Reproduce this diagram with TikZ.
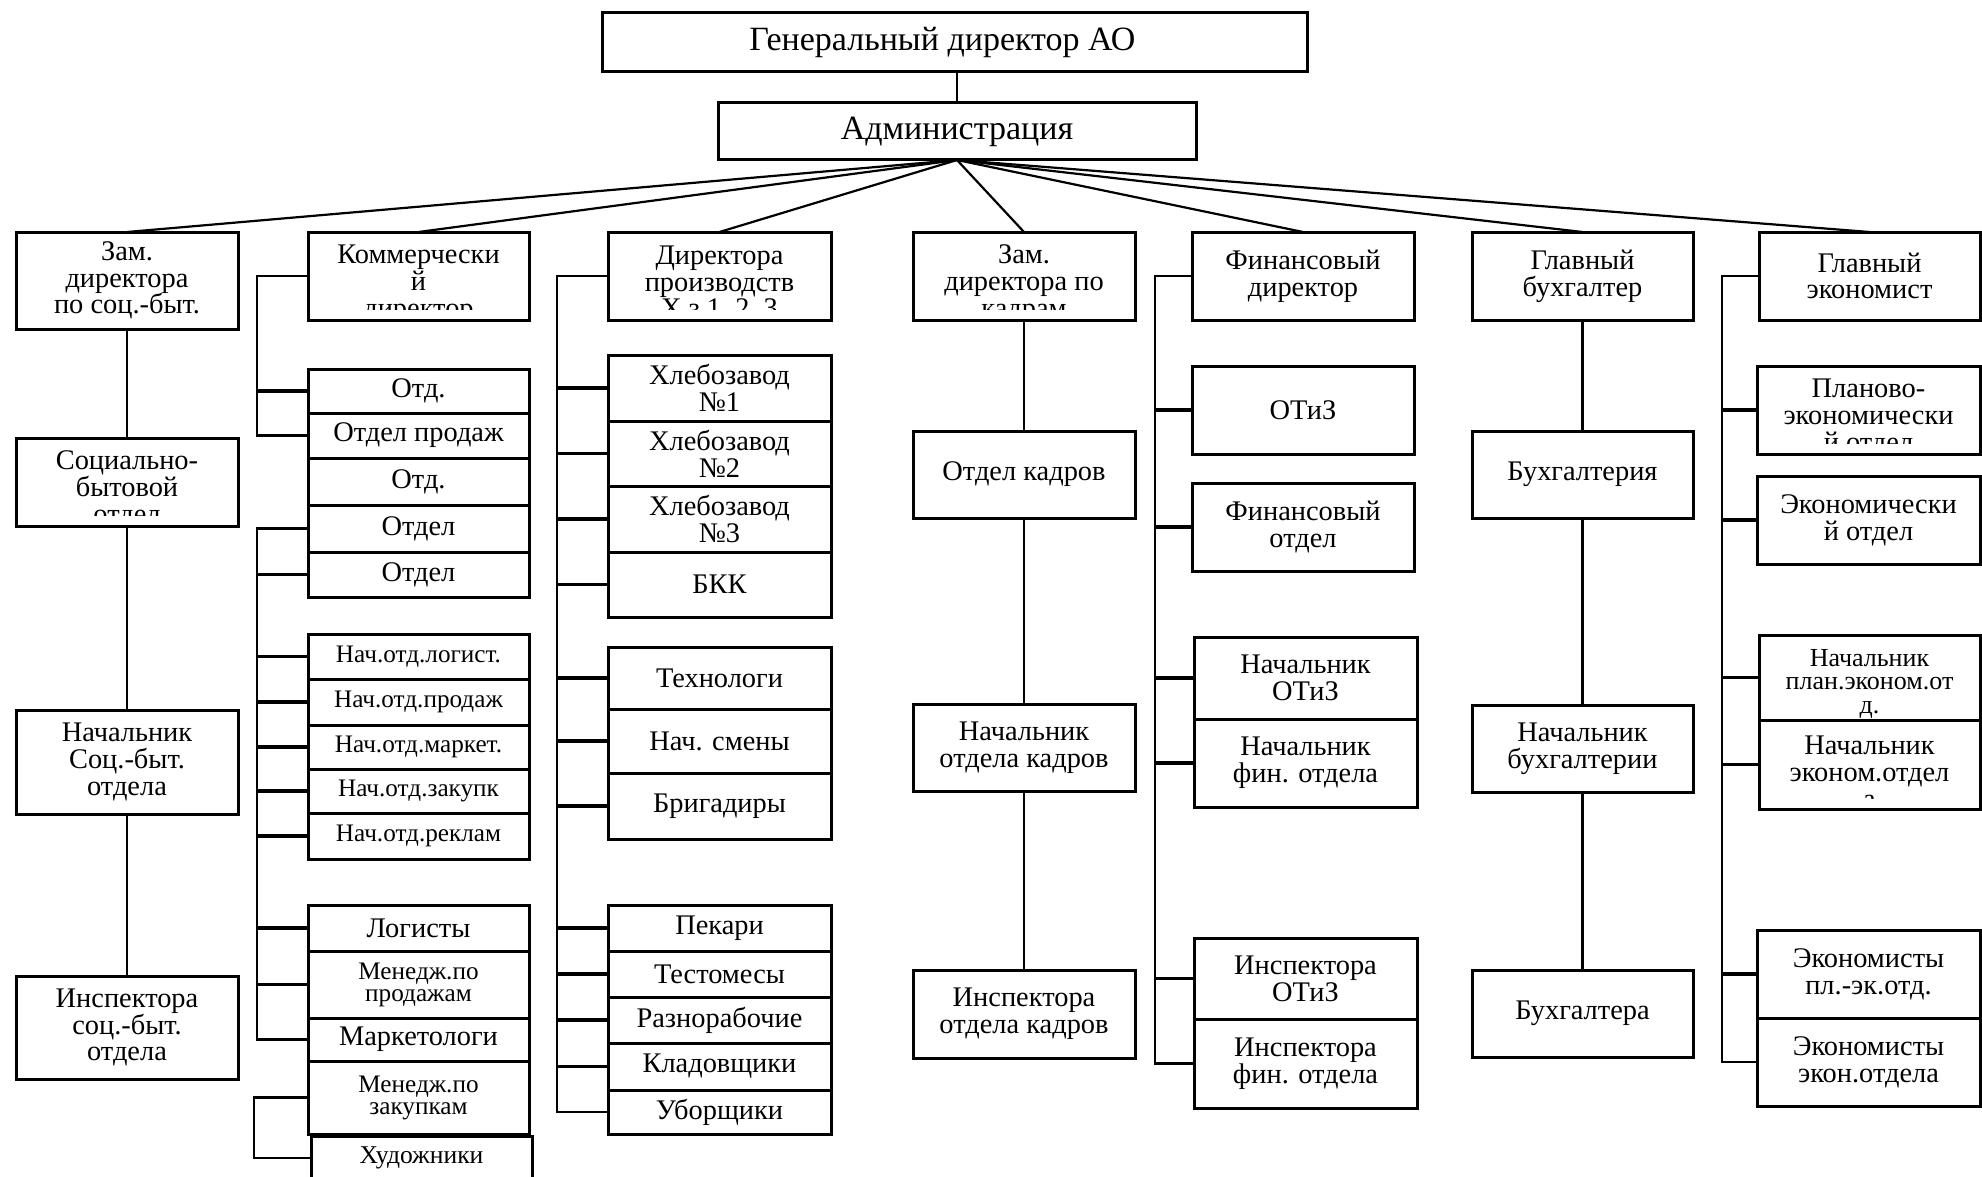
\documentclass[tikz,border=0pt]{standalone}
\usepackage{fontspec}
\setmainfont{Liberation Serif}
\usetikzlibrary{fit,calc}
\tikzset{
  box/.style={draw=black, line width=1.5pt, inner sep=0pt, outer sep=0pt, rectangle},
  txt/.style={align=center, inner sep=0pt, text=black, font=\fontsize{14.2}{13.4}\selectfont},
  smalltxt/.style={font=\fontsize{12.6}{11}\selectfont},
  midtxt/.style={font=\fontsize{12.8}{11.8}\selectfont},
  toptxt/.style={font=\fontsize{17}{16}\selectfont},
  conn/.style={draw=black, line width=1.1pt},
  stub/.style={draw=black, line width=1.6pt},
}
\newcommand\BX[7][]{%
  \node[box, fit={(#3,#4)(#5,#6)}] (#2) {};
  \node[txt,#1] (#2-t) at (#2.center) {#7};}
\newcommand\BXC[7][]{%
  \node[box, fit={(#3,#4)(#5,#6)}] (#2) {};
  \begin{scope}
    \clip (#3,#4) rectangle (#5,{#6-11});
    \node[txt,yshift=-4pt,#1] (#2-t) at (#2.center) {#7};
  \end{scope}}
\begin{document}
\begin{tikzpicture}[x=0.5pt,y=-0.5pt]
\fill[white] (0,0) rectangle (1982,1177);
\useasboundingbox (0,0) rectangle (1982,1177);

% top
\BX[toptxt,xshift=-6pt]{gen}{602}{13}{1307}{72}{Генеральный директор АО}
\BX[toptxt]{adm}{718}{103}{1196}{160}{Администрация}
\draw[conn] (adm.north) -- (adm.north |- gen.south);

% row 1
\BX{zsoc}{16}{232}{238}{329}{Зам.\\директора\\по соц.-быт.}
\BXC{komm}{308}{232}{529}{320}{Коммерчески\\й\\директор}
\BXC{dprod}{608}{232}{831}{320}{Директора\\производств\\Х.з 1, 2, 3}
\BXC{zkadr}{913}{232}{1135}{320}{Зам.\\директора по\\кадрам}
\BX{findir}{1192}{232}{1414}{320}{Финансовый\\директор}
\BX{glbuh}{1472}{232}{1693}{320}{Главный\\бухгалтер}
\BX{glecon}{1759}{232}{1980}{320}{Главный\\экономист}

\foreach \n in {zsoc,komm,dprod,zkadr,findir,glbuh,glecon}
  \draw[conn] (adm.south) -- (\n.north);

% column 1
\BXC{social}{16}{438}{238}{526}{Социально-\\бытовой\\отдел}
\BX{nachsoc}{16}{710}{238}{814}{Начальник\\Соц.-быт.\\отдела}
\BX{inspsoc}{16}{976}{238}{1079}{Инспектора\\соц.-быт.\\отдела}
\draw[conn] (zsoc.south) -- (social.north);
\draw[conn] (social.south) -- (nachsoc.north);
\draw[conn] (nachsoc.south) -- (inspsoc.north);

% column 2
\BX{otda}{308}{369}{529}{413}{Отд.}
\BX{otdprod}{308}{413}{529}{458}{Отдел продаж}
\BX{otdb}{308}{458}{529}{505}{Отд.}
\BX{otdc}{308}{505}{529}{552}{Отдел}
\BX{otdd}{308}{552}{529}{597}{Отдел}
\BX[smalltxt]{nla}{308}{634}{529}{679}{Нач.отд.логист.}
\BX[smalltxt]{nlb}{308}{679}{529}{725}{Нач.отд.продаж}
\BX[smalltxt]{nlc}{308}{725}{529}{769}{Нач.отд.маркет.}
\BX[smalltxt]{nld}{308}{769}{529}{813}{Нач.отд.закупк}
\BX[smalltxt]{nle}{308}{813}{529}{859}{Нач.отд.реклам}
\BX{logi}{308}{905}{529}{951}{Логисты}
\BX[smalltxt]{mprod}{308}{951}{529}{1018}{Менедж.по\\продажам}
\BX{mark}{308}{1018}{529}{1061}{Маркетологи}
\BX[smalltxt]{mzak}{308}{1061}{529}{1134}{Менедж.по\\закупкам}
\BX[midtxt]{hud}{311}{1136}{532}{1180}{Художники}

\coordinate (kb) at (257,0);
\draw[conn] (komm.west) -| (kb |- otdprod.west) -- (otdprod.west);
\draw[stub] (otda.west) -- (kb |- otda.west);
\draw[conn] (otdc.west) -| (kb |- mark.west) -- (mark.west);
\foreach \n in {otdc,otdd,nla,nlb,nlc,nld,nle,logi,mprod}
  \draw[stub] (\n.west) -- (kb |- \n.west);
\coordinate (hb) at (254,0);
\draw[conn] (mzak.west) -| (hb |- hud.west) -- (hud.west);

% column 3
\BX{hla}{608}{355}{831}{421}{Хлебозавод\\№1}
\BX{hlb}{608}{421}{831}{486}{Хлебозавод\\№2}
\BX{hlc}{608}{486}{831}{552}{Хлебозавод\\№3}
\BX{bkk}{608}{552}{831}{617}{БКК}
\BX{tech}{608}{647}{831}{709}{Технологи}
\BX{nsm}{608}{709}{831}{773}{Нач. смены}
\BX{brig}{608}{773}{831}{839}{Бригадиры}
\BX{pek}{608}{905}{831}{951}{Пекари}
\BX{test}{608}{951}{831}{997}{Тестомесы}
\BX{razn}{608}{997}{831}{1043}{Разнорабочие}
\BX{klad}{608}{1043}{831}{1090}{Кладовщики}
\BX{ubor}{608}{1090}{831}{1134}{Уборщики}
\coordinate (pb) at (557,0);
\draw[conn] (dprod.west) -| (pb |- ubor.west) -- (ubor.west);
\foreach \n in {hla,hlb,hlc,bkk,tech,nsm,brig,pek,test,razn,klad}
  \draw[stub] (\n.west) -- (pb |- \n.west);

% column 4
\BX{otdkadr}{913}{431}{1135}{518}{Отдел кадров}
\BX{nachkadr}{913}{704}{1135}{791}{Начальник\\отдела кадров}
\BX{inspkadr}{913}{970}{1135}{1058}{Инспектора\\отдела кадров}
\draw[conn] (zkadr.south) -- (otdkadr.north);
\draw[conn] (otdkadr.south) -- (nachkadr.north);
\draw[conn] (nachkadr.south) -- (inspkadr.north);

% column 5
\BX{otiz}{1192}{366}{1414}{454}{ОТиЗ}
\BX{finotd}{1192}{483}{1414}{571}{Финансовый\\отдел}
\BX{nachotiz}{1194}{637}{1417}{719}{Начальник\\ОТиЗ}
\BX{nachfin}{1194}{719}{1417}{807}{Начальник\\фин. отдела}
\BX{inspotiz}{1194}{938}{1417}{1019}{Инспектора\\ОТиЗ}
\BX{inspfin}{1194}{1019}{1417}{1108}{Инспектора\\фин. отдела}
\coordinate (fb) at (1155,0);
\draw[conn] (findir.west) -| (fb |- inspfin.west) -- (inspfin.west);
\foreach \n in {otiz,finotd,nachotiz,nachfin,inspotiz}
  \draw[stub] (\n.west) -- (fb |- \n.west);

% column 6
\BX{buh}{1472}{431}{1693}{518}{Бухгалтерия}
\BX{nachbuh}{1472}{705}{1693}{792}{Начальник\\бухгалтерии}
\BX{buhg}{1472}{970}{1693}{1057}{Бухгалтера}
\draw[conn] (glbuh.south) -- (buh.north);
\draw[conn] (buh.south) -- (nachbuh.north);
\draw[conn] (nachbuh.south) -- (buhg.north);

% column 7
\BXC{plan}{1757}{366}{1980}{454}{Планово-\\экономически\\й отдел}
\BX{econotd}{1757}{476}{1980}{564}{Экономически\\й отдел}
\BX[font=\fontsize{13}{11.8}\selectfont,yshift=-3.2pt]{nachplan}{1759}{635}{1980}{720}{Начальник\\план.эконом.от\\д.}
\BXC{nachecon}{1759}{720}{1980}{809}{Начальник\\эконом.отдел\\а}
\BX{ecpl}{1757}{930}{1980}{1018}{Экономисты\\пл.-эк.отд.}
\BX{ecec}{1757}{1018}{1980}{1106}{Экономисты\\экон.отдела}
\coordinate (eb) at (1722,0);
\draw[conn] (glecon.west) -| (eb |- ecec.west) -- (ecec.west);
\foreach \n in {plan,econotd,nachplan,nachecon,ecpl}
  \draw[stub] (\n.west) -- (eb |- \n.west);
\end{tikzpicture}
\end{document}
